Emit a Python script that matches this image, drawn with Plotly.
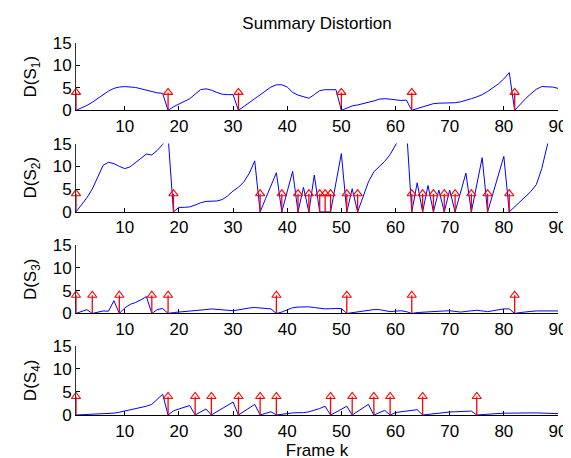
import plotly.graph_objects as go

frames = list(range(1, 91))

s1 = [0, 0.5, 1.1, 1.8, 2.6, 3.5, 4.3, 4.9, 5.2, 5.3,
      5.2, 5.1, 4.8, 4.5, 4.2, 3.9, 3.8, 0, 0.8, 1.4,
      1.9, 2.6, 3.6, 4.6, 4.8, 4.5, 4.0, 3.6, 3.5, 3.5,
      0, 0.9, 1.8, 2.6, 3.5, 4.3, 5.2, 5.7, 5.7, 5.2,
      4.0, 3.4, 3.1, 2.7, 3.5, 4.4, 4.6, 4.6, 4.6, 0,
      0.5, 1.0, 1.2, 1.5, 1.7, 2.1, 2.5, 2.6, 2.5, 2.3,
      2.2, 2.3, 0, 0.4, 0.8, 1.2, 1.5, 1.6, 1.6, 1.6,
      1.7, 1.9, 2.2, 2.6, 3.0, 3.5, 4.2, 5.0, 5.9, 7.0,
      8.4, 0, 1.4, 2.6, 3.7, 4.7, 5.3, 5.3, 5.2, 4.9]

s2 = [0, 1.6, 3.1, 5.0, 7.8, 10.2, 10.9, 10.6, 10.0, 9.5,
      9.9, 10.8, 11.8, 12.7, 12.5, 13.5, 14.8, 16.7, 0, 1.0,
      1.0, 1.1, 1.5, 2.0, 2.3, 2.4, 2.4, 2.7, 3.5, 4.6,
      5.4, 6.6, 8.5, 11.2, 0, 2.9, 5.7, 8.6, 0, 4.5,
      8.9, 0, 5.4, 0, 8.1, 0, 0, 0, 6.4, 12.8,
      0, 5.1, 0, 3.5, 6.6, 8.8, 10.0, 11.1, 12.6, 14.7,
      16.8, 18.8, 0, 6.4, 0, 5.8, 0, 4.8, 0, 4.8,
      0, 4.2, 8.5, 0, 6.0, 11.9, 0, 4.2, 8.2, 12.2,
      0, 1.1, 2.1, 3.3, 4.5, 6.0, 9.5, 14.5, 19.5, 24]

s3 = [0, 0.4, 0.85, 0, 0.3, 0.55, 0.5, 2.8, 0, 1.2,
      2.0, 2.4, 3.0, 3.7, 0, 0.85, 1.1, 0, 0.2, 0.3,
      0.35, 0.4, 0.55, 0.7, 0.85, 1.0, 0.95, 0.85, 0.7, 0.6,
      0.85, 1.1, 1.2, 1.3, 1.2, 1.1, 1.0, 0, 0.3, 0.8,
      1.25, 1.4, 1.5, 1.45, 1.3, 1.1, 1.0, 1.05, 1.1, 1.1,
      0, 0.2, 0.4, 0.6, 0.8, 0.85, 0.85, 0.6, 0.4, 0.5,
      0.6, 0.4, 0, 0.2, 0.3, 0.35, 0.4, 0.45, 0.55, 0.6,
      0.45, 0.3, 0.45, 0.6, 0.7, 0.55, 0.4, 0.6, 0.8, 1.0,
      1.0, 0, 0.2, 0.4, 0.45, 0.55, 0.55, 0.55, 0.55, 0.55]

s4 = [0, 0.05, 0.1, 0.15, 0.2, 0.25, 0.3, 0.4, 0.6, 0.85,
      1.1, 1.3, 1.6, 1.9, 2.3, 3.3, 4.5, 0, 0.9, 1.3,
      1.7, 2.05, 0, 0.7, 1.3, 0, 0.7, 1.4, 2.1, 2.8,
      0, 0.8, 1.5, 2.3, 0, 0.4, 0.7, 0, 0.2, 0.35,
      0.45, 0.5, 0.5, 0.7, 1.0, 1.4, 1.9, 0, 0.6, 1.3,
      1.9, 0, 0.8, 1.5, 2.3, 0, 0.5, 1.0, 0, 0.5,
      0.7, 0.9, 1.0, 1.15, 0, 0.15, 0.3, 0.4, 0.55, 0.65,
      0.7, 0.75, 0.8, 0.85, 0, 0.1, 0.2, 0.25, 0.3, 0.4,
      0.4, 0.45, 0.45, 0.45, 0.45, 0.45, 0.4, 0.4, 0.35, 0.3]

key1 = [1, 18, 31, 50, 63, 82]
key2 = [1, 19, 35, 39, 42, 44, 46, 47, 48, 51, 53, 63, 65, 67, 69, 71, 74, 77, 81]
key3 = [1, 4, 9, 15, 18, 38, 51, 63, 82]
key4 = [1, 18, 23, 26, 31, 35, 38, 48, 52, 56, 59, 65, 75]
key_level = 4

series = [s1, s2, s3, s4]
keys = [key1, key2, key3, key4]
ylabels = ["D(S<sub>1</sub>)", "D(S<sub>2</sub>)", "D(S<sub>3</sub>)", "D(S<sub>4</sub>)"]
xlabel = "Frame k"
title = "Summary Distortion"
xticks = [10, 20, 30, 40, 50, 60, 70, 80, 90]
yticks = [0, 5, 10, 15]

FONT = "Liberation Sans, Arial, Helvetica, sans-serif"

# pixel layout (plot area 68..556 x, 35..416 y)
H = 458
top_px = [35, 138, 242, 345]
bot_px = [104, 208, 312, 416]
area_top, area_bot = 35, 416
area_h = area_bot - area_top

fig = go.Figure()
layout = {}
for i in range(4):
    n = "" if i == 0 else str(i + 1)
    xa = "x" + n
    ya = "y" + n
    fig.add_trace(go.Scatter(x=frames, y=series[i], mode="lines",
                             line=dict(color="#0000ff", width=1),
                             xaxis=xa, yaxis=ya, showlegend=False,
                             hoverinfo="skip"))
    sx, sy = [], []
    for k in keys[i]:
        sx += [k, k, None]
        sy += [0, key_level, None]
    fig.add_trace(go.Scatter(x=sx, y=sy, mode="lines",
                             line=dict(color="#ff0000", width=1.3),
                             xaxis=xa, yaxis=ya, showlegend=False,
                             hoverinfo="skip"))
    fig.add_trace(go.Scatter(x=keys[i], y=[key_level] * len(keys[i]), mode="markers",
                             marker=dict(symbol="triangle-up-open", size=8,
                                         color="#ff0000", line=dict(width=1.1, color="#ff0000")),
                             cliponaxis=False,
                             xaxis=xa, yaxis=ya, showlegend=False,
                             hoverinfo="skip"))
    d0 = (area_bot - bot_px[i]) / area_h
    d1 = (area_bot - top_px[i]) / area_h
    xa_cfg = dict(
        domain=[0, 1], anchor=ya, range=[1, 90], tickvals=xticks,
        ticks="inside", ticklen=4, tickcolor="#000", showline=True,
        linecolor="#000", linewidth=1.3, showgrid=False, zeroline=False,
        tickfont=dict(family=FONT, size=17, color="#000"),
    )
    if i == 3:
        xa_cfg["title"] = dict(text=xlabel, standoff=2,
                               font=dict(family=FONT, size=17, color="#000"))
    layout["xaxis" + n] = xa_cfg
    layout["yaxis" + n] = dict(
        domain=[d0, d1], anchor=xa, range=[0, 15], tickvals=yticks,
        ticks="inside", ticklen=4, tickcolor="#000", showline=True,
        linecolor="#333", linewidth=1, showgrid=False, zeroline=False,
        tickfont=dict(family=FONT, size=17, color="#000"),
        title=dict(text=ylabels[i], standoff=11,
                   font=dict(family=FONT, size=17, color="#000")),
    )

fig.update_layout(
    width=571, height=458,
    margin=dict(l=68, r=15, t=35, b=42),
    paper_bgcolor="white", plot_bgcolor="white",
    title=dict(text=title, x=0.5, xref="paper",
               y=1 - 15 / H, yref="container", yanchor="middle",
               font=dict(family=FONT, size=17, color="#000")),
    **layout,
)

fig.write_html("out.html")
